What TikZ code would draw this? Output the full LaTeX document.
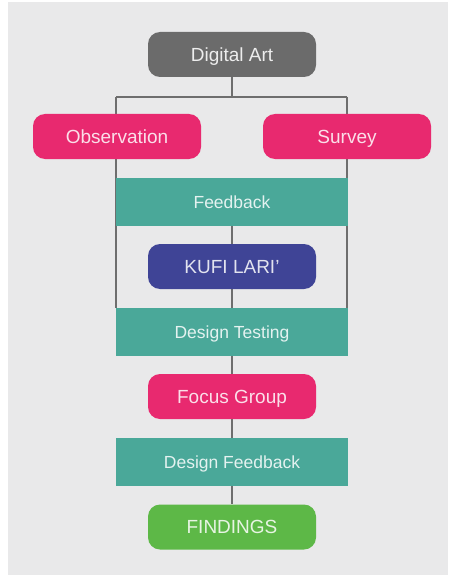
\documentclass[tikz,border=0pt]{standalone}
\usepackage{fontspec}
\setmainfont{Liberation Sans}
\usetikzlibrary{backgrounds}
\definecolor{pagebg}{HTML}{E9E9EA}
\definecolor{linegray}{HTML}{6E6E6E}
\definecolor{artgray}{HTML}{6B6B6B}
\definecolor{hotpink}{HTML}{E8296F}
\definecolor{teal}{HTML}{4AA899}
\definecolor{navy}{HTML}{3F4496}
\definecolor{leaf}{HTML}{5DB847}
\tikzset{
  x=1pt, y=-1pt,
  pill/.style={draw=none, rounded corners=12pt, minimum width=168pt, minimum height=45pt,
    inner sep=0pt, text height=13.6pt, text depth=0pt, font=\fontsize{19}{19}\selectfont},
  band/.style={draw=none, minimum width=232pt, minimum height=48pt,
    inner sep=0pt, text height=12.5pt, text depth=0pt,
    fill=teal, text=white!85!teal, font=\fontsize{17.5}{17.5}\selectfont},
  link/.style={draw=linegray, line width=1.4pt},
}
\begin{document}
\begin{tikzpicture}
  \useasboundingbox (0,0) rectangle (449,575);

  \node[pill, fill=artgray, text=white!88!artgray] (art) at (232,54.5) {Digital Art};
  \node[pill, fill=hotpink, text=white!85!hotpink] (obs) at (117,136.5) {Observation};
  \node[pill, fill=hotpink, text=white!85!hotpink] (sur) at (347,136.5) {Survey};
  \node[band] (fb) at (232,202) {Feedback};
  \node[pill, fill=navy, text=white!85!navy] (kufi) at (232,266.5) {KUFI LARI'};
  \node[band] (dt) at (232,332) {Design Testing};
  \node[pill, fill=hotpink, text=white!85!hotpink] (fg) at (232,396.5) {Focus Group};
  \node[band] (df) at (232,462) {Design Feedback};
  \node[pill, fill=leaf, text=white!85!leaf] (fin) at (232,527) {FINDINGS};

  \coordinate (jl) at (116,97);
  \coordinate (jr) at (347,97);

  \begin{scope}[on background layer]
    \fill[pagebg] (8,2) rectangle (448,575);
    \draw[link] (art.south) -- (art.south |- jl);
    \draw[link] (jl) -- (jr);
    \draw[link] (jl) -- (jl |- dt.north);
    \draw[link] (jr) -- (jr |- dt.north);
    \draw[link] (fb.south) -- (kufi.north);
    \draw[link] (kufi.south) -- (dt.north);
    \draw[link] (dt.south) -- (fg.north);
    \draw[link] (fg.south) -- (df.north);
    \draw[link] (df.south) -- (fin.north);
  \end{scope}
\end{tikzpicture}
\end{document}
